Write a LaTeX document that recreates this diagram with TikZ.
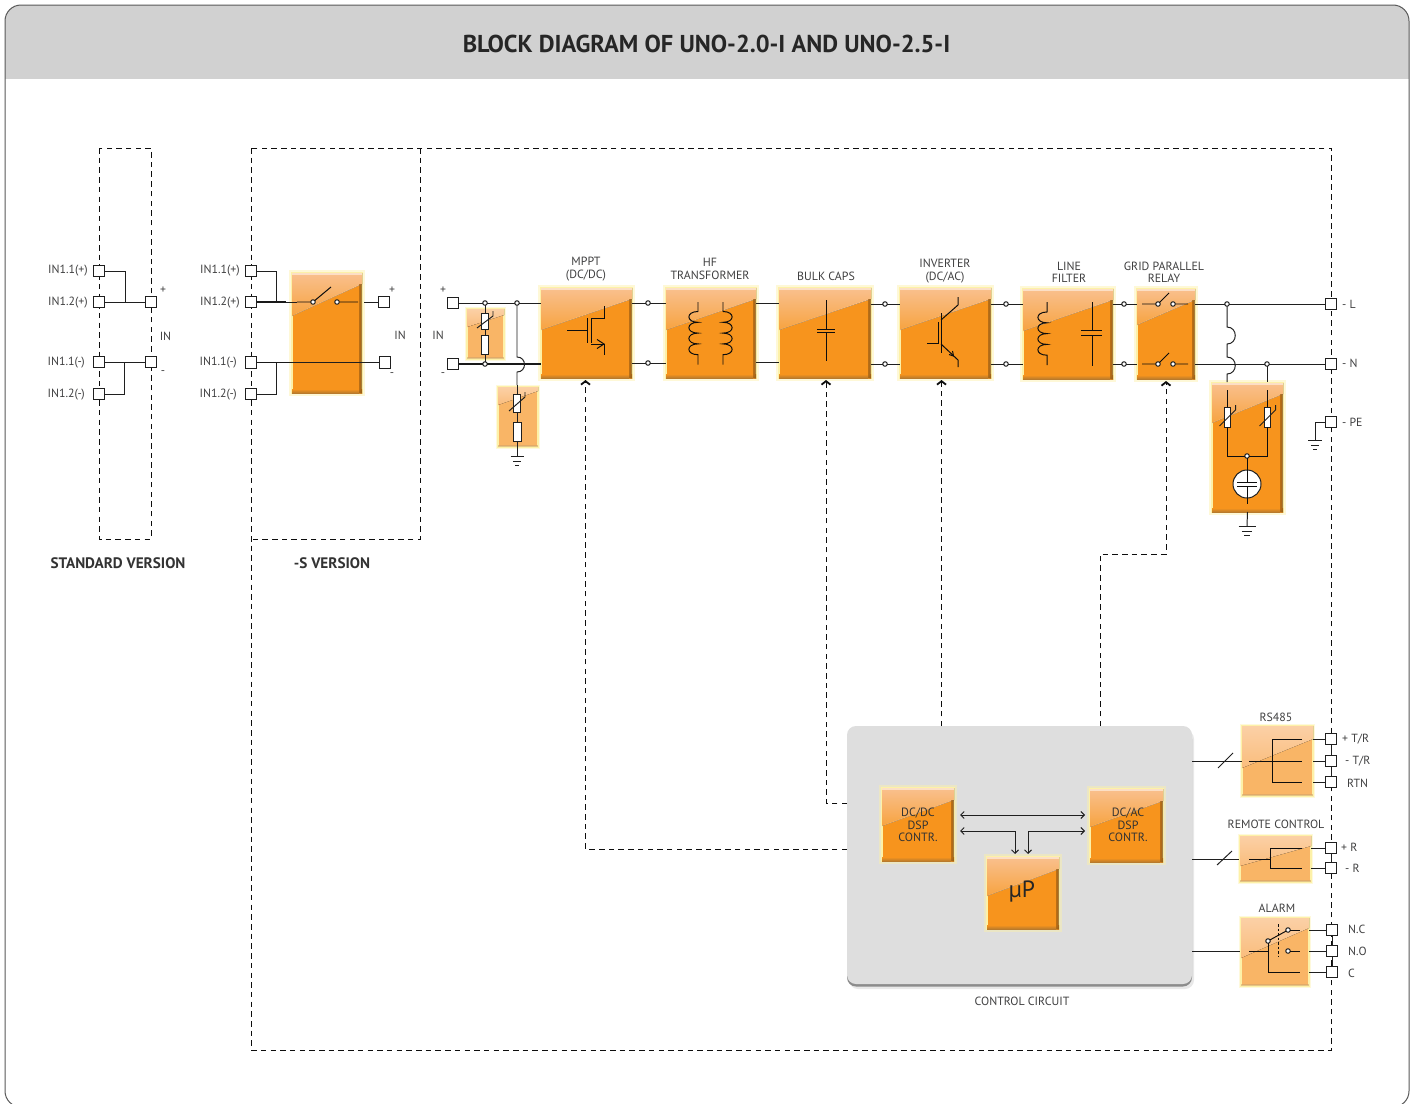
\documentclass[tikz,border=0pt]{standalone}
\usepackage{fontspec}
\setmainfont{PT Sans}
\usetikzlibrary{arrows.meta,calc}
\definecolor{wirec}{HTML}{1F1F1F}
\definecolor{txtc}{HTML}{404041}
\definecolor{glowc}{HTML}{FDF1A8}
\definecolor{orgc}{HTML}{F7941D}
\definecolor{orgd}{HTML}{B97A2C}
\definecolor{glosst}{HTML}{F9C08E}
\definecolor{glossm}{HTML}{F8AC62}
\definecolor{glossb}{HTML}{F7A340}
\definecolor{lorgc}{HTML}{F9B566}
\definecolor{lglosst}{HTML}{FBD0A6}
\definecolor{lglossb}{HTML}{FABD7C}
\tikzset{
 wire/.style={draw=wirec,line width=.98pt},
 thickwire/.style={draw=black!90,line width=1.8pt},
 sym/.style={draw=black!95,line width=.98pt},
 dashline/.style={draw=black!95,line width=.95pt,dash pattern=on 5.5pt off 4.2pt},
 ctrlline/.style={dashline,-{Straight Barb[length=3.5pt,width=9pt,line width=1.8pt]}},
 bidir/.style={draw=wirec,line width=.98pt,{Straight Barb[length=3.5pt,width=7pt]}-{Straight Barb[length=3.5pt,width=7pt]}},
 term/.style={draw=wirec,fill=white,line width=1.05pt,minimum size=11.8pt,inner sep=0pt,outer sep=0pt},
 jdot/.style={circle,draw=wirec,fill=white,line width=1pt,minimum size=4.5pt,inner sep=0pt,outer sep=0pt},
 res/.style={draw=wirec,fill=white,line width=1pt,inner sep=0pt,outer sep=0pt},
 lbl/.style={text=txtc,font=\fontsize{11.9}{12.3}\selectfont,align=center,inner sep=0pt},
 sgn/.style={text=txtc,font=\fontsize{11.8}{12}\selectfont,inner sep=0pt},
 vers/.style={text=black!80,font=\fontsize{15.2}{16}\selectfont\bfseries,inner sep=0pt},
 dsp/.style={text=black!80,font=\fontsize{12}{12.4}\selectfont,align=center,inner sep=0pt},
 boxbase/.style={inner sep=0pt,outer sep=0pt,anchor=north west,draw=glowc,line width=2.2pt},
}
% \obox{name}{x1}{y1}{x2}{y2}{left gloss depth}{right gloss depth}
\newcommand\obox[7]{%
 \fill[glowc,opacity=.45] (#2-2.6,#3-2.6) rectangle (#4+2.6,#5+2.6);
 \node[boxbase,fill=orgc,minimum width=#4-#2,minimum height=#5-#3] (#1) at (#2,#3) {};
 \fill[top color=glosst,middle color=glossm,bottom color=glossb] (#2,#3) -- (#4,#3) -- (#4,#3+#7) -- (#2,#3+#6) -- cycle;
 \draw[white,opacity=.3,line width=.5pt] (#4,#3+#7) -- (#2,#3+#6);
 \fill[bottom color=orgd,top color=orgc] (#2,#5-4) rectangle (#4,#5);
 \fill[left color=orgc,right color=orgd,opacity=.5] (#4-3,#3+#7) rectangle (#4,#5);
 \fill[white,opacity=.5] (#2,#3) rectangle (#4,#3+1.5);
}
\newcommand\lbox[7]{%
 \fill[glowc,opacity=.4] (#2-2.4,#3-2.4) rectangle (#4+2.4,#5+2.4);
 \node[boxbase,fill=lorgc,minimum width=#4-#2,minimum height=#5-#3] (#1) at (#2,#3) {};
 \fill[top color=lglosst,bottom color=lglossb] (#2,#3) -- (#4,#3) -- (#4,#3+#7) -- (#2,#3+#6) -- cycle;
 \fill[orgd!70,opacity=.55] (#2,#5-2) rectangle (#4,#5);
}
% \coil{x}{y start}{y coil}{hump}{dir}: four humps
\newcommand\coil[5]{%
 \draw[sym] (#1,#2) -- (#1,#3)
  \foreach \k in {0,1,2,3} { .. controls (#1+#5*1.35,#3+\k*#4) and (#1+#5*1.35,#3+\k*#4+#4) .. (#1,#3+\k*#4+#4) }
  -- (#1,#3+4*#4+10);
}
\newcommand\varist[4]{%
 \node[res,minimum width=6.5pt,minimum height=#4-#3] (#1) at (#2,{(#3+#4)/2}) {};
 \draw[wire] (#2-8,#4-1) -- (#2+8,#3+3) -- (#2+8,#3-2);
}
\newcommand\gnd[3]{%
 \draw[wire] (#1-#3,#2) -- (#1+#3,#2) (#1-#3*.6,#2+5) -- (#1+#3*.6,#2+5) (#1-#3*.3,#2+9.5) -- (#1+#3*.3,#2+9.5);
}
% \swtch{name}{x0}{c1}{c2}{x3}{y}{dx}{dy}
\newcommand\swtch[8]{%
 \node[jdot] (#1a) at (#3,#6) {};
 \node[jdot] (#1b) at (#4,#6) {};
 \draw[sym] (#2,#6) -- (#1a) (#1a) -- ++(#7,-#8) (#1b) -- (#5,#6);
}
\begin{document}
\begin{tikzpicture}[x=1pt,y=-1pt]
\useasboundingbox (0,0) rectangle (1416,1103);
\clip (0,0) rectangle (1416,1103);
\fill[white] (0,0) rectangle (1416,1103);
% frame
\begin{scope}
\clip[rounded corners=16pt] (5,5) rectangle (1409,1107);
\fill[fill=black!18] (5,5) rectangle (1409,79);
\end{scope}
\draw[draw=black!65,line width=1pt,rounded corners=16pt] (5,5) rectangle (1409,1107);
\node[text=black!85,font=\fontsize{24.4}{26}\selectfont\bfseries,inner sep=0pt] (title) at (706.5,44) {BLOCK DIAGRAM OF UNO-2.0-I AND UNO-2.5-I};
% dashed frames
\draw[dashline] (99,148) rectangle (151,539);
\draw[dashline] (251,148) rectangle (1331,1050);
\draw[dashline] (420,148) -- (420,539) -- (251,539);
\node[vers] (stdv) at (118,563) {STANDARD VERSION};
\node[vers] (sv) at (332,563) {-S VERSION};
% control box
\fill[black!25,opacity=.35,rounded corners=9pt] (849,730) rectangle (1194,989);
\fill[black!45,rounded corners=9pt] (847,730) rectangle (1192,986.5);
\node[inner sep=0pt,outer sep=0pt,anchor=north west,fill=black!13,rounded corners=9pt,minimum width=345pt,minimum height=258pt] (ctrl) at (847,726) {};
\node[lbl] (ctrllbl) at (1022,1001) {CONTROL CIRCUIT};
% control paths
\coordinate (cmppt) at (847,849);
\coordinate (cbulk) at (847,803);
\obox{mppt}{541}{288}{632}{378}{42}{11}
\obox{hf}{666}{288}{756}{378}{42}{11}
\obox{bulk}{779}{288}{871}{378}{42}{11}
\obox{inv}{900}{288}{991}{378}{42}{11}
\obox{filt}{1023}{289}{1113}{379}{42}{11}
\obox{rel}{1137}{289}{1195}{379}{36}{11}
\obox{surge}{1212}{383}{1283}{512}{40}{11}
\obox{sbox}{292}{273}{362}{393}{43}{11}
\lbox{lb1}{467}{309}{504}{359}{18}{6}
\lbox{lb2}{498}{387}{538}{447}{18}{4}
\obox{dcdc}{882}{788}{954}{861}{38}{12}
\obox{dcac}{1090}{789}{1163}{862}{38}{12}
\obox{mup}{987}{857}{1059}{929}{39}{12}
\lbox{rs}{1242}{726}{1313}{796}{42}{13}
\lbox{rem}{1240}{836}{1311}{882}{30}{10}
\lbox{alm}{1241}{918}{1309}{986}{40}{10}
\node[dsp] at (918,825) (t1) {DC/DC\\DSP\\CONTR.};
\node[dsp] at (1128,825) (t2) {DC/AC\\DSP\\CONTR.};
\node[text=black!85,font=\fontsize{23.5}{24}\selectfont,inner sep=0pt] (t3) at (1022,892) {µP};
\draw[ctrlline] (cmppt) -| ([xshift=-1pt,yshift=-2pt]mppt.south);
\draw[ctrlline] (cbulk) -| ([xshift=1pt,yshift=-2pt]bulk.south);
\draw[ctrlline] (ctrl.north -| 941.5,0) -- ([xshift=-4pt,yshift=-2pt]inv.south);
\coordinate (relc) at (1100,726);
\coordinate (relm) at (1100,554);
\draw[ctrlline] (relc) -- (relm) -| ([yshift=-2pt]rel.south);
% inner arrows
\coordinate (al) at (960,815);
\coordinate (ar) at (1085,815);
\coordinate (bl) at (960,831);
\coordinate (br) at (1085,831);
\draw[bidir] (al) -- (ar);
\coordinate (mupl) at (1015,854);
\coordinate (mupr) at (1028,854);
\draw[bidir] (bl) -| (mupl);
\draw[bidir] (br) -| (mupr);
% block labels
\node[lbl] (l1) at (586,269) {MPPT\\(DC/DC)};
\node[lbl] (l2) at (710,269) {HF\\TRANSFORMER};
\node[lbl] (l3) at (826,276) {BULK CAPS};
\node[lbl] (l4) at (945,271) {INVERTER\\(DC/AC)};
\node[lbl] (l5) at (1069,272) {LINE\\FILTER};
\node[lbl] (l6) at (1164,272) {GRID PARALLEL\\RELAY};
\node[lbl] (l7) at (1276,717) {RS485};
\node[lbl] (l8) at (1276,824) {REMOTE CONTROL};
\node[lbl] (l9) at (1277,908) {ALARM};
% terminals
\foreach \n/\x/\y in {a1/99/271,a2/99/302,a3/99/362,a4/99/394,a5/151/302,a6/151/362,
  b1/251/271,b2/251/302,b3/251/362.5,b4/251/394,b5/384/302,b6/385/362.5,
  c1/453/303,c2/453/364,
  tl/1331/304,tn/1331/364,tp/1331/422,
  r1/1331/739,r2/1331/761,r3/1331/782,r4/1331/848,r5/1331/868,r6/1332/930,r7/1332/951,r8/1332/972}
  {\node[term] (\n) at (\x,\y) {};}
\draw[wire] (a2) -- (a5);
\draw[wire] (a3) -- (a6);
\draw[wire] (a1) -| (125,302);
\draw[wire] (a4) -| (124,362);
\node[lbl,anchor=east] (la1) at (88,271) {IN1.1(+)};
\node[lbl,anchor=east] (la2) at (88,303) {IN1.2(+)};
\node[lbl,anchor=east] (la3) at (85,363) {IN1.1(-)};
\node[lbl,anchor=east] (la4) at (85,394.5) {IN1.2(-)};
\node[sgn] (sa1) at (163,290) {+};
\node[sgn] (sa2) at (165.5,336.5) {IN};
\node[sgn] (sa3) at (163,373) {-};
% S version
\node[lbl,anchor=east] (lb1t) at (240,271) {IN1.1(+)};
\node[lbl,anchor=east] (lb2t) at (240,303) {IN1.2(+)};
\node[lbl,anchor=east] (lb3t) at (237,363) {IN1.1(-)};
\node[lbl,anchor=east] (lb4t) at (237,394.5) {IN1.2(-)};
\node[sgn] (sb1) at (392,290) {+};
\node[sgn] (sb2) at (400,335.5) {IN};
\node[sgn] (sb3) at (392,375) {-};
\draw[wire] (b1) -| (276,302);
\draw[wire] (b4) -| (276,362.5);
\swtch{ss}{297}{313}{337}{358}{302}{18}{15}
\draw[thickwire] (b2) -- (286,302);
\draw[wire] (286,302) -- (297,302);
\draw[wire] (364,302) -- (b5);
\draw[thickwire] (b3) -- (292,362.5);
\draw[wire] (292,362.5) -- (b6);
% input
\node[sgn] (sc1) at (443,290) {+};
\node[sgn] (sc2) at (438,335.5) {IN};
\node[sgn] (sc3) at (443,375) {-};
\node[jdot] (j1) at (485,303) {};
\node[jdot] (j2) at (517,303) {};
\node[jdot] (j3) at (485,364) {};
\draw[wire] (c1) -- (j1);
\draw[wire] (j1) -- (j2);
\draw[wire] (j2) -- (j2 -| mppt.west);
\draw[thickwire] (c2) -- (j3);
\draw[thickwire] (j3) -- (j3 -| mppt.west);
\varist{v1}{485}{313}{329}
\node[res,minimum width=7pt,minimum height=19pt] (r1x) at (485,345) {};
\draw[wire] (j1) -- (v1);
\draw[wire] (v1) -- (r1x);
\draw[wire] (r1x) -- (j3);
\coordinate (hopa) at (517,357);
\coordinate (hopb) at (517,372);
\draw[wire] (j2) -- (hopa) .. controls (527,357) and (527,372) .. (hopb) -- (517,385);
\varist{v2}{517}{394}{412}
\node[res,minimum width=8pt,minimum height=19pt] (r2x) at (517,431.5) {};
\draw[wire] (517,385) -- (v2);
\draw[wire] (v2) -- (r2x);
\coordinate (g1) at (517,456);
\draw[wire] (r2x) -- (g1);
\gnd{517}{456}{6.5}
% MPPT symbol
\draw[sym] (567,330) -- (587,330) (587,318) -- (587,343);
\draw[sym] (591,318) -- (591,343);
\draw[sym] (604,306) -- (604,318) -- (591,318);
\draw[sym] (591,344) -- (604,344) -- (604,355);
\draw[sym] (597,339.5) -- (604,344) -- (597,348.5);
% stubs
\foreach \n/\a/\b/\x/\y in {k1/mppt/hf/648/303,k2/mppt/hf/648/363,k3/bulk/inv/885/304,k4/bulk/inv/885/364,k5/inv/filt/1006/304,k6/inv/filt/1006/364,k7/filt/rel/1124/304,k8/filt/rel/1124/364}
 {\node[jdot] (\n) at (\x,\y) {};
  \draw[wire] (\a.east |- \n) -- (\n);
  \draw[wire] (\n) -- (\b.west |- \n);}
\draw[wire] (hf.east |- 0,303) -- (bulk.west |- 0,303);
\draw[wire] (hf.east |- 0,362) -- (bulk.west |- 0,362);
% transformer
\coil{698}{302}{311.5}{10.8}{-9}
\coil{723}{302}{311.5}{10.8}{9}
% bulk caps
\draw[sym] (826,300) -- (826,329) (826,332) -- (826,361) (817,329) -- (835,329) (817,332.5) -- (835,332.5);
% inverter
\draw[sym] (927,343) -- (938,343) -- (938,322);
\draw[sym] (941,313) -- (941,353);
\draw[sym] (941,320) -- (958,305) -- (958,297);
\draw[sym] (941,344) -- (958,360) -- (958,367);
\draw[sym] (949,354.5) -- (953.5,356) -- (952.5,351);
% filter
\coil{1047}{302}{312}{10.8}{-9}
\draw[sym] (1092,302) -- (1092,330) (1092,335) -- (1092,366) (1081,330) -- (1102,330) (1081,335) -- (1102,335);
% relay
\swtch{s1}{1142}{1158}{1173}{1188}{304}{11}{11}
\swtch{s2}{1142}{1158}{1173}{1188}{364}{11}{11}
% output
\node[jdot] (jl) at (1227,304) {};
\node[jdot] (jn) at (1267,364) {};
\draw[wire] (rel.east |- jl) -- (jl);
\draw[wire] (jl) -- (tl);
\draw[wire] (rel.east |- jn) -- (jn);
\draw[wire] (jn) -- (tn);
\draw[wire] (jl) -- (1227,327) .. controls (1238,327) and (1238,344) .. (1227,344) -- (1227,357) .. controls (1238,357) and (1238,374) .. (1227,374) -- (1227,382);
\draw[wire] (jn) -- (1267,382);
\varist{v3}{1227.5}{407}{427}
\varist{v4}{1267.5}{407}{427}
\node[jdot] (js) at (1247,456) {};
\draw[sym] (1227.5,390) -- (v3);
\draw[sym] (1267.5,390) -- (v4);
\draw[sym] (v3) |- (js);
\draw[sym] (v4) |- (js);
\node[circle,draw=wirec,fill=white,line width=1pt,minimum size=28pt,inner sep=0pt,outer sep=0pt] (gas) at (1247,484) {};
\draw[sym] (js) -- (1247,482) (1247,486) -- (1247,504) (1237,482) -- (1257,482) (1237,486) -- (1257,486);
\coordinate (g2) at (1247,526);
\draw[wire] (surge.south) -- (g2);
\gnd{1247}{526}{8.5}
\coordinate (g3) at (1315,440);
\draw[wire] (tp) -| (g3);
\gnd{1315}{440}{7}
% right labels
\node[sgn,anchor=west] (ll) at (1342,304) {- L};
\node[sgn,anchor=west] (ln) at (1342,363.5) {- N};
\node[sgn,anchor=west] (lp) at (1342,422) {- PE};
\node[sgn,anchor=west] (lr1) at (1342,739) {+ T/R};
\node[sgn,anchor=west] (lr2) at (1345,761) {- T/R};
\node[sgn,anchor=west] (lr3) at (1347,783) {RTN};
\node[sgn,anchor=west] (lr4) at (1341,847) {+ R};
\node[sgn,anchor=west] (lr5) at (1345,868) {- R};
\node[sgn,anchor=west] (lr6) at (1348,929) {N.C};
\node[sgn,anchor=west] (lr7) at (1348,951) {N.O};
\node[sgn,anchor=west] (lr8) at (1348,973) {C};
% solid link between terminals
\draw[wire] (r1) -- (r2);
\draw[wire] (r2) -- (r3);
\draw[wire] (r4) -- (r5);
\draw[wire] (r6) -- (r7);
\draw[wire] (r7) -- (r8);
% RS485
\draw[wire] (ctrl.east |- r2) -- (rs.west |- r2);
\draw[wire] (1218,768) -- (1233,753);
\draw[sym] (1249,761) -- (1302,761) (1302,739) -| (1272,782) -- (1302,782);
\draw[wire] (rs.east |- r1) -- (r1);
\draw[wire] (rs.east |- r2) -- (r2);
\draw[wire] (rs.east |- r3) -- (r3);
% remote
\coordinate (rm) at (1239,859);
\draw[wire] (ctrl.east |- rm) -- (rm);
\draw[wire] (1217,865) -- (1232,851);
\draw[sym] (1249,859) -- (1270,859) (1302,848) -| (1270,868) -- (1302,868);
\draw[wire] (rem.east |- r4) -- (r4);
\draw[wire] (rem.east |- r5) -- (r5);
% alarm
\coordinate (am) at (1240,951);
\draw[wire] (ctrl.east |- am) -- (am);
\node[jdot] (ja) at (1268,941) {};
\node[jdot] (jb) at (1288,930) {};
\node[jdot] (jc) at (1288,951) {};
\draw[sym] (1249,951) -- (1268,951);
\draw[sym] (ja) -- (jb);
\draw[sym] (jb) -- (1300,930);
\draw[sym] (jc) -- (1300,951);
\draw[sym] (ja) -- (1268,972) -- (1300,972);
\draw[sym,line width=1pt,dash pattern=on 2.5pt off 2pt] (1278,924) -- (1278,957);
\draw[wire] (alm.east |- r6) -- (r6);
\draw[wire] (alm.east |- r7) -- (r7);
\draw[wire] (alm.east |- r8) -- (r8);
\end{tikzpicture}
\end{document}
